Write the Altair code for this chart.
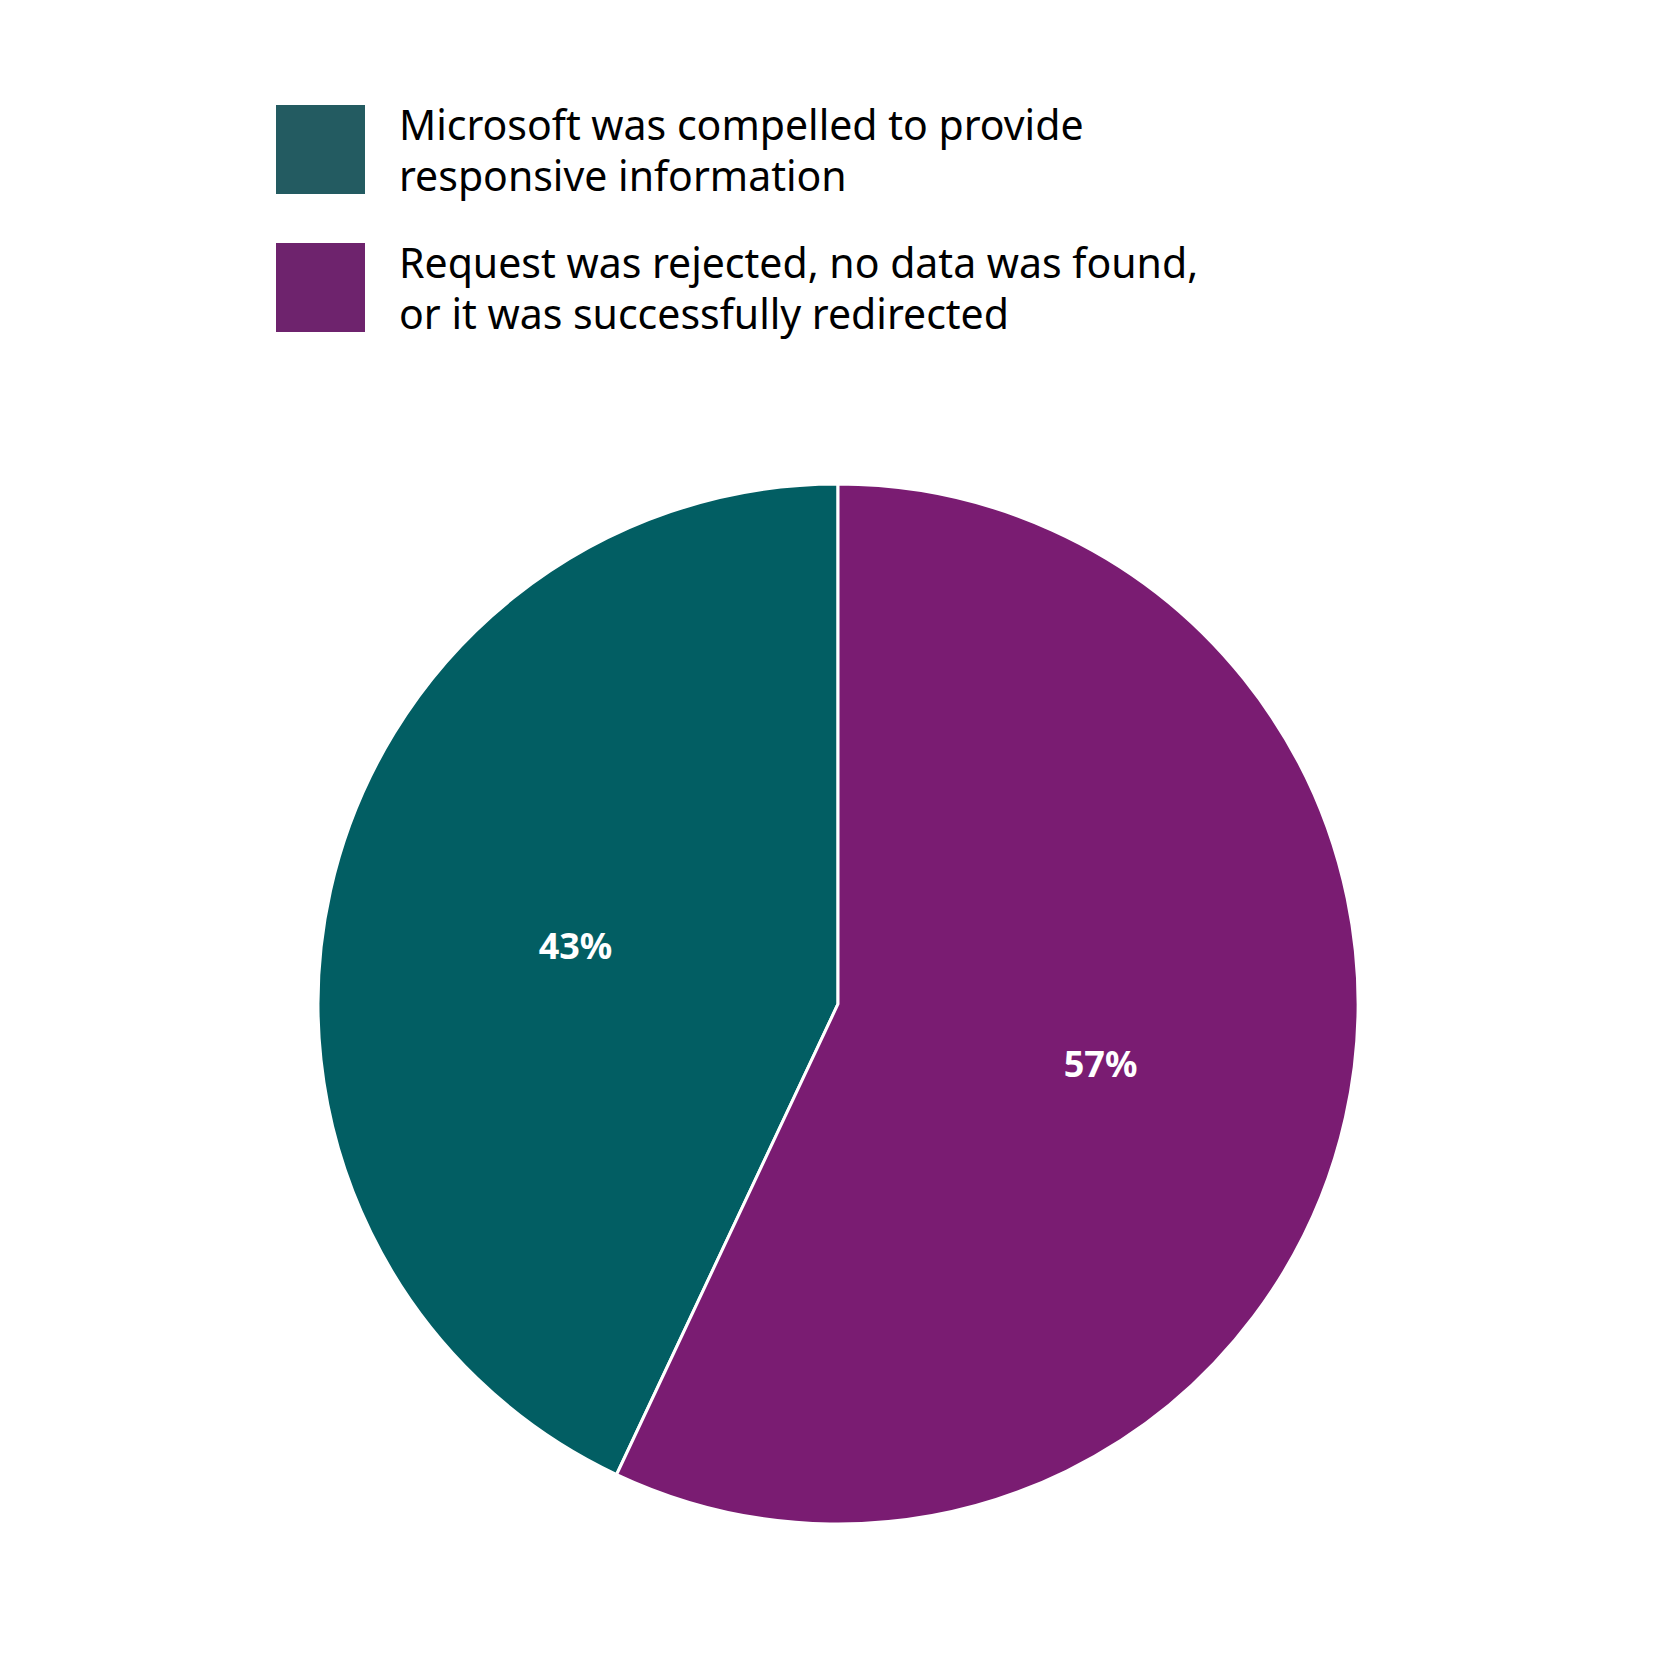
import altair as alt
import pandas as pd

# ---- data ----
legend_lines = [
    ["Microsoft was compelled to provide", "responsive information"],
    ["Request was rejected, no data was found,", "or it was successfully redirected"],
]
categories = [" ".join(l) for l in legend_lines]
shares = [43, 57]
slice_order = [1, 0]  # second category starts at 12 o'clock, clockwise
slice_colors = ["#025E63", "#7A1C72"]
swatch_colors = ["#235B61", "#6E236D"]

df = pd.DataFrame({
    "category": categories,
    "share": shares,
    "order": slice_order,
    "label": [f"{s}%" for s in shares],
})

legend_df = pd.DataFrame({"category": categories})
legend_text_df = pd.DataFrame(
    [{"category": c, "line": j, "text": t}
     for c, lines in zip(categories, legend_lines) for j, t in enumerate(lines)]
)

# ---- pie ----
base = alt.Chart(df).encode(
    theta=alt.Theta("share:Q", stack=True),
    order=alt.Order("order:Q"),
)
arcs = base.mark_arc(outerRadius=520, stroke="white", strokeWidth=3).encode(
    color=alt.Color("category:N",
                    scale=alt.Scale(domain=categories, range=slice_colors),
                    legend=None)
)
texts = base.mark_text(
    radius=269, dy=3, font="Noto Sans", fontSize=36, fontWeight="bold", color="white"
).encode(text="label:N")

# ---- legend (drawn above the plot area) ----
row_scale = alt.Scale(type="point", domain=categories, range=[-304.5, -166.5], padding=0)

swatches = alt.Chart(legend_df).mark_square(size=89 * 89, opacity=1, strokeWidth=0).encode(
    x=alt.value(32.5),
    y=alt.Y("category:N", scale=row_scale, axis=None),
    fill=alt.Fill("category:N",
                  scale=alt.Scale(domain=categories, range=swatch_colors),
                  legend=None),
)
legend_text = alt.Chart(legend_text_df).mark_text(
    align="left", baseline="alphabetic", font="Noto Sans", fontSize=41, color="#000000"
).encode(
    x=alt.value(111),
    y=alt.Y("category:N", scale=row_scale, axis=None),
    yOffset=alt.YOffset("line:O",
                        scale=alt.Scale(type="point", domain=[0, 1], range=[-10, 41], padding=0)),
    text="text:N",
)

chart = (arcs + texts + swatches + legend_text).properties(
    width=1100, height=1100,
    padding={"left": 280, "top": 446, "right": 0, "bottom": 0},
    autosize=alt.AutoSizeParams(type="none"),
    background="white",
).configure_view(strokeWidth=0)

chart.save("out.html", embed_options={"renderer": "svg", "actions": False})
